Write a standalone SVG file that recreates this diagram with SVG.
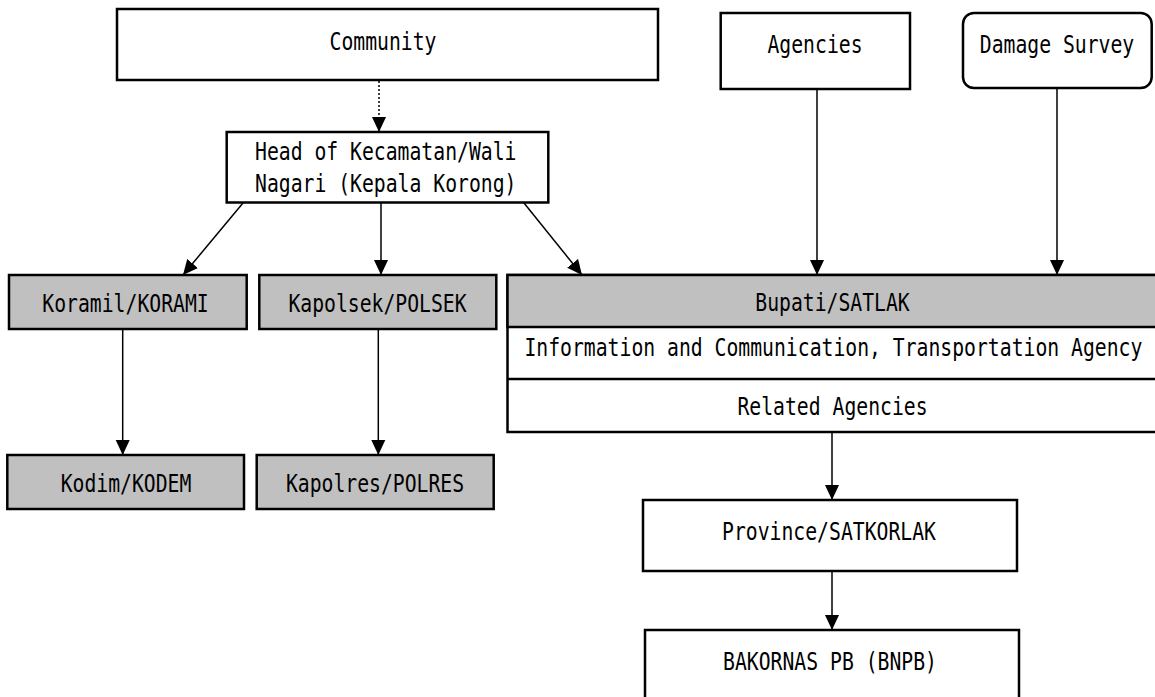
<svg xmlns="http://www.w3.org/2000/svg" width="1155" height="697" viewBox="0 0 1155 697">
<defs>
<style>
.box{fill:#ffffff;stroke:#000000;stroke-width:2.5}
.gray{fill:#c0c0c0;stroke:#000000;stroke-width:2.5}
.t{font-family:"DejaVu Sans Mono","Liberation Mono",monospace;font-size:19.75px;fill:#000000}
.c{text-anchor:middle}
.ln{stroke:#000000;stroke-width:1.5;fill:none}
.dot{stroke:#000000;stroke-width:1.5;fill:none;stroke-dasharray:2 2}
</style>
<marker id="ah" markerUnits="userSpaceOnUse" markerWidth="16" markerHeight="15" refX="15" refY="7" orient="auto" viewBox="0 0 16 14">
<path d="M0,0 L15,7 L0,14 z" fill="#000000"/>
</marker>
</defs>
<rect width="1155" height="697" fill="#ffffff"/>

<g id="connectors">
<line class="dot" x1="379" y1="81" x2="379" y2="132" marker-end="url(#ah)"/>
<line class="ln" x1="243" y1="203" x2="183" y2="275" marker-end="url(#ah)"/>
<line class="ln" x1="381" y1="203" x2="381" y2="275" marker-end="url(#ah)"/>
<line class="ln" x1="524" y1="203" x2="582" y2="275" marker-end="url(#ah)"/>
<line class="ln" x1="817" y1="89" x2="817" y2="275" marker-end="url(#ah)"/>
<line class="ln" x1="1057" y1="88" x2="1057" y2="275" marker-end="url(#ah)"/>
<line class="ln" x1="122.7" y1="329" x2="122.7" y2="455" marker-end="url(#ah)"/>
<line class="ln" x1="378.3" y1="329" x2="378.3" y2="455" marker-end="url(#ah)"/>
<line class="ln" x1="832" y1="432" x2="832" y2="500" marker-end="url(#ah)"/>
<line class="ln" x1="832" y1="571" x2="832" y2="630" marker-end="url(#ah)"/>
</g>

<g id="community">
<rect class="box" x="117" y="9" width="541" height="71"/>
<text class="t c" transform="translate(383,50) scale(1,1.22)">Community</text>
</g>

<g id="agencies">
<rect class="box" x="720.7" y="13" width="189.3" height="76"/>
<text class="t c" transform="translate(815,53) scale(1,1.22)">Agencies</text>
</g>

<g id="damage-survey">
<rect class="box" x="963" y="13" width="188.7" height="75" rx="11" ry="11"/>
<text class="t c" transform="translate(1057,53) scale(1,1.22)">Damage Survey</text>
</g>

<g id="head">
<rect class="box" x="226.7" y="132" width="321.6" height="70.5"/>
<text class="t" transform="translate(255,159.5) scale(1,1.22)">Head of Kecamatan/Wali</text>
<text class="t" transform="translate(255,191.5) scale(1,1.22)">Nagari (Kepala Korong)</text>
</g>

<g id="koramil">
<rect class="gray" x="9" y="275" width="237.7" height="54"/>
<text class="t c" transform="translate(125.5,311.5) scale(1,1.22)">Koramil/KORAMI</text>
</g>

<g id="kapolsek">
<rect class="gray" x="259.3" y="275" width="237" height="54"/>
<text class="t c" transform="translate(377.5,311.5) scale(1,1.22)">Kapolsek/POLSEK</text>
</g>

<g id="kodim">
<rect class="gray" x="7.3" y="455" width="236.7" height="54"/>
<text class="t c" transform="translate(126,491.5) scale(1,1.22)">Kodim/KODEM</text>
</g>

<g id="kapolres">
<rect class="gray" x="256.7" y="455" width="237" height="54"/>
<text class="t c" transform="translate(375,491.5) scale(1,1.22)">Kapolres/POLRES</text>
</g>

<g id="bupati">
<rect class="box" x="507.5" y="275" width="660" height="157"/>
<rect class="gray" x="507.5" y="275" width="660" height="52"/>
<line class="box" x1="507.5" y1="379" x2="1160" y2="379"/>
<text class="t c" transform="translate(832.5,310.5) scale(1,1.22)">Bupati/SATLAK</text>
<text class="t c" transform="translate(833.4,356) scale(1,1.22)">Information and Communication, Transportation Agency</text>
<text class="t c" transform="translate(832.5,415) scale(1,1.22)">Related Agencies</text>
</g>

<g id="province">
<rect class="box" x="643" y="500" width="374" height="71"/>
<text class="t c" transform="translate(829,540) scale(1,1.22)">Province/SATKORLAK</text>
</g>

<g id="bakornas">
<rect class="box" x="645" y="630" width="374" height="100"/>
<text class="t c" transform="translate(830,670) scale(1,1.22)">BAKORNAS PB (BNPB)</text>
</g>
</svg>
